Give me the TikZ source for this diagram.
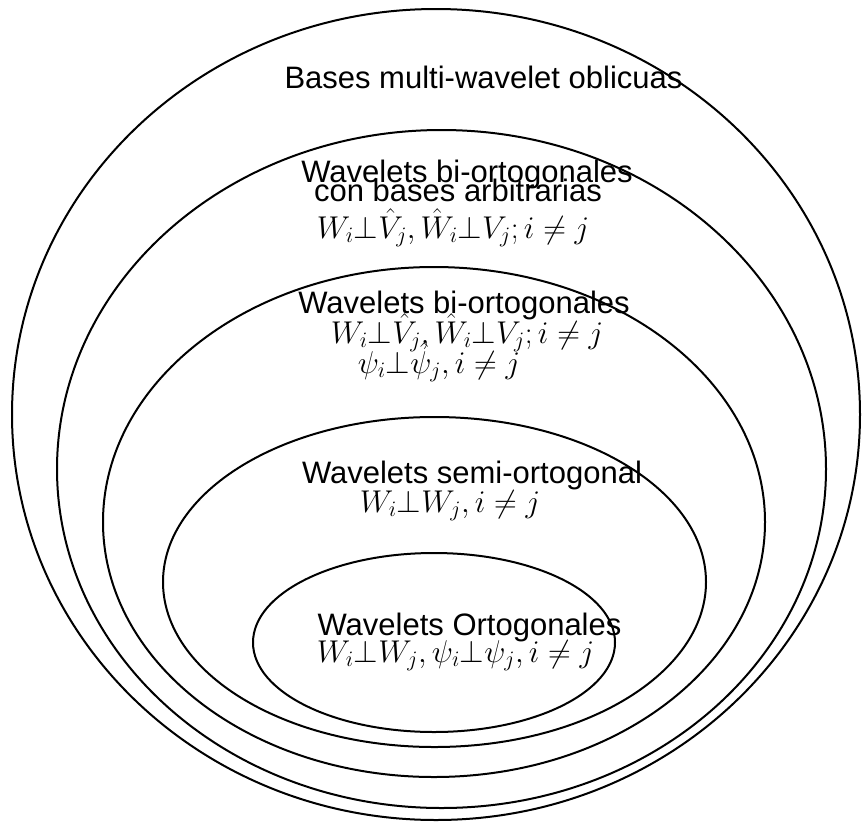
\RequirePackage{fix-cm}
\documentclass[tikz,border=0pt]{standalone}
\usepackage{fontspec}
\setmainfont{Liberation Sans}
\usetikzlibrary{shapes.geometric}
\newcommand{\orth}{\mathord{\perp}}
\tikzset{
  ring/.style={draw=black, line width=2pt, ellipse, inner sep=0pt},
  lbl/.style={anchor=base, inner sep=0pt, font=\fontsize{31}{31}\selectfont},
  mlbl/.style={anchor=base, inner sep=0pt, font=\fontsize{31.5}{31.5}\selectfont}
}
\begin{document}
\begin{tikzpicture}[x=1pt,y=-1pt]
\useasboundingbox (0,0) rectangle (865,823);
% nested ellipses
\node[ring, minimum width=848pt, minimum height=811pt] (e1) at (436,414.5) {};
\node[ring, minimum width=769pt, minimum height=678pt] (e2) at (441.5,469) {};
\node[ring, minimum width=662pt, minimum height=510pt] (e3) at (434,522) {};
\node[ring, minimum width=543pt, minimum height=330pt] (e4) at (434.5,582) {};
\node[ring, minimum width=362pt, minimum height=179pt] (e5) at (434,642.5) {};
% labels
\node[lbl] (t1) at (483.5,88) {Bases multi-wavelet oblicuas};
\node[lbl] (t2a) at (467,182) {Wavelets bi-ortogonales};
\node[lbl] (t2b) at (458,201) {con bases arbitrarias};
\node[mlbl] (m2) at (453,238) {$W_i\orth\hat{V}_j,\hat{W}_i\orth V_j;i\neq j$};
\node[lbl] (t3) at (464,313) {Wavelets bi-ortogonales};
\node[mlbl] (m3a) at (467,343) {$W_i\orth\hat{V}_j,\hat{W}_i\orth V_j;i\neq j$};
\node[mlbl] (m3b) at (439,373) {$\psi_i\orth\hat{\psi}_j,i\neq j$};
\node[lbl] (t4) at (472,483) {Wavelets semi-ortogonal};
\node[mlbl] (m4) at (450,512) {$W_i\orth W_j,i\neq j$};
\node[lbl] (t5) at (469.5,635) {Wavelets Ortogonales};
\node[mlbl] (m5) at (455.5,662) {$W_i\orth W_j,\psi_i\orth\psi_j,i\neq j$};
\end{tikzpicture}
\end{document}
